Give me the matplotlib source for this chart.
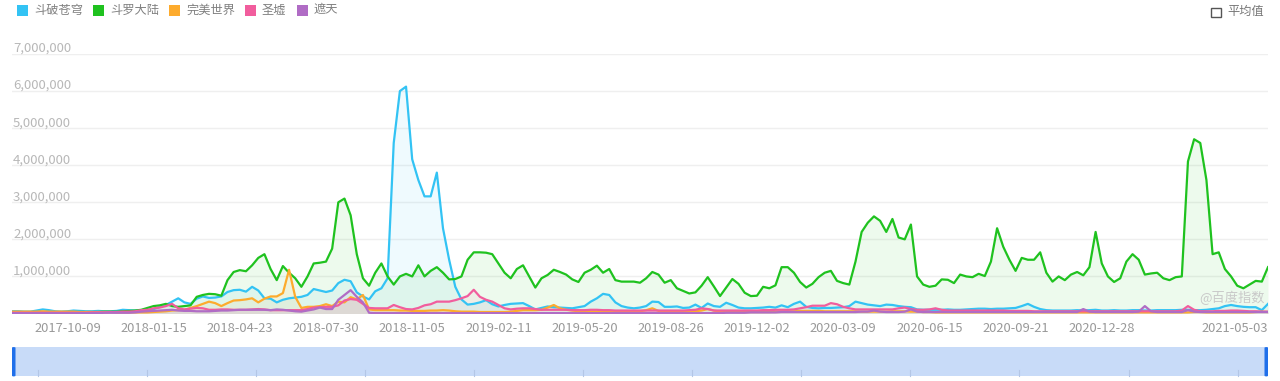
import numpy as np
import pandas as pd
import matplotlib
matplotlib.use("Agg")
import matplotlib.pyplot as plt
import matplotlib.transforms as mtransforms
from matplotlib.patches import Rectangle, FancyBboxPatch

plt.rcParams['font.family'] = ['Noto Sans CJK SC', 'DejaVu Sans']

# ---------------- data (values in millions, weekly) ----------------
start_date = "2017-08-07"
n_weeks = 205

series_names = ["斗破苍穹", "斗罗大陆", "完美世界", "圣墟", "遮天"]
series_colors = ["#33c3f4", "#1fc21f", "#fdab2d", "#f15d9d", "#b06cc5"]

doupo = [
    0.06, 0.06, 0.05, 0.05, 0.08, 0.11, 0.09, 0.06, 0.05, 0.06,
    0.08, 0.07, 0.06, 0.06, 0.07, 0.06, 0.06, 0.07, 0.10, 0.09,
    0.08, 0.09, 0.10, 0.12, 0.18, 0.23, 0.32, 0.41, 0.30, 0.26,
    0.40, 0.46, 0.42, 0.43, 0.46, 0.58, 0.63, 0.64, 0.59, 0.72,
    0.62, 0.41, 0.40, 0.30, 0.37, 0.41, 0.43, 0.45, 0.50, 0.66,
    0.62, 0.58, 0.62, 0.82, 0.91, 0.87, 0.57, 0.46, 0.38, 0.60,
    0.68, 0.95, 4.60, 6.00, 6.12, 4.16, 3.60, 3.16, 3.16, 3.80,
    2.30, 1.45, 0.72, 0.38, 0.24, 0.26, 0.30, 0.36, 0.25, 0.19,
    0.23, 0.26, 0.27, 0.28, 0.20, 0.11, 0.15, 0.19, 0.17, 0.16,
    0.15, 0.14, 0.17, 0.20, 0.32, 0.41, 0.53, 0.50, 0.30, 0.20,
    0.16, 0.14, 0.16, 0.20, 0.32, 0.31, 0.18, 0.18, 0.19, 0.15,
    0.16, 0.24, 0.15, 0.27, 0.20, 0.18, 0.29, 0.23, 0.16, 0.14,
    0.14, 0.15, 0.16, 0.18, 0.16, 0.22, 0.17, 0.26, 0.32, 0.18,
    0.15, 0.14, 0.15, 0.15, 0.16, 0.17, 0.20, 0.32, 0.28, 0.24,
    0.22, 0.20, 0.24, 0.23, 0.20, 0.18, 0.17, 0.11, 0.10, 0.10,
    0.10, 0.10, 0.11, 0.10, 0.10, 0.11, 0.12, 0.13, 0.13, 0.12,
    0.13, 0.13, 0.14, 0.15, 0.20, 0.26, 0.18, 0.12, 0.09, 0.08,
    0.08, 0.08, 0.08, 0.09, 0.08, 0.09, 0.10, 0.08, 0.08, 0.09,
    0.08, 0.08, 0.09, 0.09, 0.08, 0.08, 0.09, 0.09, 0.09, 0.09,
    0.10, 0.10, 0.09, 0.09, 0.10, 0.12, 0.14, 0.20, 0.23, 0.20,
    0.18, 0.17, 0.17, 0.09, 0.26,
]

douluo = [
    0.04, 0.04, 0.04, 0.04, 0.04, 0.04, 0.04, 0.04, 0.04, 0.04,
    0.04, 0.04, 0.04, 0.04, 0.04, 0.05, 0.05, 0.05, 0.06, 0.07,
    0.08, 0.10, 0.15, 0.20, 0.22, 0.26, 0.20, 0.18, 0.20, 0.22,
    0.45, 0.50, 0.53, 0.52, 0.48, 0.90, 1.12, 1.17, 1.14, 1.30,
    1.50, 1.60, 1.20, 0.90, 1.28, 1.10, 0.95, 0.72, 1.00, 1.35,
    1.37, 1.40, 1.75, 3.00, 3.10, 2.65, 1.60, 0.95, 0.75, 1.10,
    1.35, 1.00, 0.78, 1.00, 1.07, 1.00, 1.30, 1.00, 1.15, 1.25,
    1.10, 0.92, 0.93, 1.00, 1.45, 1.65, 1.65, 1.64, 1.60, 1.35,
    1.10, 0.95, 1.20, 1.30, 1.00, 0.70, 0.95, 1.04, 1.18, 1.12,
    1.05, 0.92, 0.85, 1.10, 1.18, 1.29, 1.10, 1.20, 0.90, 0.86,
    0.86, 0.86, 0.83, 0.95, 1.12, 1.05, 0.83, 0.90, 0.68, 0.61,
    0.54, 0.57, 0.75, 0.98, 0.73, 0.47, 0.70, 0.93, 0.80, 0.56,
    0.47, 0.48, 0.72, 0.68, 0.76, 1.25, 1.25, 1.10, 0.85, 0.70,
    0.80, 0.98, 1.10, 1.15, 0.88, 0.82, 0.78, 1.40, 2.20, 2.45,
    2.62, 2.50, 2.20, 2.55, 2.05, 2.00, 2.40, 1.00, 0.78, 0.72,
    0.75, 0.92, 0.91, 0.82, 1.05, 1.00, 0.98, 1.07, 1.01, 1.40,
    2.30, 1.80, 1.45, 1.15, 1.50, 1.45, 1.45, 1.65, 1.10, 0.86,
    1.00, 0.90, 1.05, 1.12, 1.03, 1.25, 2.20, 1.35, 1.00, 0.85,
    0.95, 1.40, 1.60, 1.45, 1.05, 1.08, 1.10, 0.95, 0.90, 0.98,
    1.00, 4.10, 4.70, 4.60, 3.60, 1.60, 1.65, 1.20, 1.00, 0.75,
    0.68, 0.78, 0.88, 0.86, 1.25,
]

wanmei = [
    0.05, 0.05, 0.05, 0.05, 0.05, 0.06, 0.05, 0.05, 0.05, 0.05,
    0.05, 0.04, 0.04, 0.04, 0.04, 0.04, 0.04, 0.03, 0.03, 0.03,
    0.03, 0.03, 0.03, 0.04, 0.05, 0.06, 0.08, 0.09, 0.10, 0.15,
    0.20, 0.26, 0.32, 0.28, 0.20, 0.28, 0.35, 0.36, 0.38, 0.41,
    0.30, 0.40, 0.46, 0.46, 0.55, 1.18, 0.45, 0.15, 0.18, 0.18,
    0.20, 0.25, 0.20, 0.32, 0.30, 0.44, 0.38, 0.50, 0.11, 0.09,
    0.09, 0.09, 0.09, 0.08, 0.08, 0.07, 0.07, 0.07, 0.08, 0.08,
    0.09, 0.08, 0.06, 0.05, 0.05, 0.05, 0.04, 0.04, 0.04, 0.04,
    0.04, 0.05, 0.07, 0.09, 0.09, 0.09, 0.10, 0.16, 0.23, 0.14,
    0.10, 0.08, 0.06, 0.05, 0.05, 0.05, 0.05, 0.05, 0.05, 0.05,
    0.05, 0.05, 0.06, 0.09, 0.14, 0.07, 0.05, 0.05, 0.05, 0.05,
    0.05, 0.06, 0.08, 0.12, 0.08, 0.05, 0.05, 0.05, 0.04, 0.04,
    0.04, 0.04, 0.04, 0.04, 0.05, 0.05, 0.06, 0.06, 0.07, 0.07,
    0.07, 0.07, 0.06, 0.06, 0.06, 0.06, 0.06, 0.06, 0.05, 0.05,
    0.05, 0.05, 0.05, 0.06, 0.06, 0.06, 0.05, 0.05, 0.04, 0.04,
    0.03, 0.03, 0.03, 0.03, 0.03, 0.03, 0.03, 0.03, 0.03, 0.03,
    0.03, 0.03, 0.03, 0.03, 0.03, 0.03, 0.03, 0.03, 0.03, 0.03,
    0.03, 0.03, 0.03, 0.03, 0.03, 0.03, 0.03, 0.03, 0.03, 0.03,
    0.03, 0.03, 0.03, 0.03, 0.03, 0.03, 0.03, 0.03, 0.03, 0.03,
    0.03, 0.03, 0.04, 0.04, 0.03, 0.03, 0.03, 0.03, 0.03, 0.03,
    0.03, 0.03, 0.04, 0.05, 0.04,
]

shengxu = [
    0.02, 0.02, 0.02, 0.02, 0.02, 0.02, 0.02, 0.02, 0.02, 0.02,
    0.02, 0.02, 0.02, 0.03, 0.03, 0.03, 0.04, 0.04, 0.05, 0.05,
    0.06, 0.09, 0.10, 0.14, 0.16, 0.20, 0.26, 0.14, 0.11, 0.13,
    0.15, 0.14, 0.10, 0.10, 0.11, 0.11, 0.10, 0.10, 0.10, 0.11,
    0.12, 0.11, 0.09, 0.09, 0.09, 0.09, 0.09, 0.09, 0.12, 0.16,
    0.17, 0.18, 0.18, 0.22, 0.35, 0.39, 0.37, 0.26, 0.15, 0.14,
    0.14, 0.14, 0.23, 0.17, 0.12, 0.11, 0.15, 0.22, 0.25, 0.32,
    0.32, 0.32, 0.36, 0.41, 0.47, 0.64, 0.45, 0.37, 0.32, 0.23,
    0.14, 0.11, 0.13, 0.14, 0.14, 0.12, 0.10, 0.10, 0.10, 0.10,
    0.10, 0.09, 0.09, 0.09, 0.10, 0.10, 0.09, 0.09, 0.08, 0.08,
    0.08, 0.08, 0.08, 0.08, 0.08, 0.08, 0.08, 0.08, 0.08, 0.08,
    0.09, 0.10, 0.14, 0.12, 0.08, 0.08, 0.08, 0.08, 0.08, 0.08,
    0.08, 0.08, 0.09, 0.09, 0.10, 0.10, 0.10, 0.11, 0.14, 0.17,
    0.21, 0.21, 0.21, 0.28, 0.25, 0.18, 0.14, 0.11, 0.11, 0.11,
    0.11, 0.11, 0.11, 0.11, 0.14, 0.16, 0.12, 0.10, 0.10, 0.11,
    0.14, 0.10, 0.08, 0.08, 0.08, 0.08, 0.08, 0.08, 0.08, 0.08,
    0.08, 0.08, 0.07, 0.07, 0.07, 0.07, 0.06, 0.06, 0.06, 0.06,
    0.06, 0.06, 0.06, 0.06, 0.06, 0.06, 0.06, 0.06, 0.06, 0.06,
    0.06, 0.06, 0.06, 0.06, 0.06, 0.06, 0.06, 0.06, 0.06, 0.06,
    0.08, 0.20, 0.10, 0.06, 0.06, 0.06, 0.07, 0.07, 0.08, 0.08,
    0.07, 0.06, 0.06, 0.05, 0.05,
]

zhetian = [
    0.01, 0.01, 0.01, 0.01, 0.01, 0.01, 0.01, 0.01, 0.01, 0.01,
    0.01, 0.01, 0.01, 0.01, 0.01, 0.02, 0.02, 0.02, 0.02, 0.02,
    0.03, 0.05, 0.06, 0.07, 0.08, 0.09, 0.10, 0.08, 0.07, 0.07,
    0.06, 0.06, 0.06, 0.07, 0.08, 0.08, 0.09, 0.10, 0.10, 0.10,
    0.10, 0.10, 0.09, 0.11, 0.10, 0.08, 0.06, 0.05, 0.08, 0.11,
    0.16, 0.12, 0.12, 0.37, 0.50, 0.63, 0.45, 0.30, 0.02, 0.01,
    0.01, 0.01, 0.01, 0.01, 0.01, 0.01, 0.01, 0.01, 0.01, 0.01,
    0.01, 0.01, 0.01, 0.01, 0.01, 0.01, 0.01, 0.01, 0.01, 0.01,
    0.01, 0.01, 0.01, 0.01, 0.01, 0.01, 0.01, 0.01, 0.01, 0.01,
    0.01, 0.01, 0.01, 0.01, 0.01, 0.01, 0.01, 0.01, 0.01, 0.01,
    0.01, 0.01, 0.01, 0.01, 0.01, 0.01, 0.01, 0.01, 0.01, 0.01,
    0.01, 0.01, 0.01, 0.01, 0.01, 0.01, 0.02, 0.02, 0.02, 0.02,
    0.03, 0.03, 0.03, 0.03, 0.03, 0.04, 0.04, 0.04, 0.04, 0.04,
    0.04, 0.04, 0.04, 0.04, 0.04, 0.04, 0.04, 0.04, 0.05, 0.05,
    0.08, 0.05, 0.04, 0.04, 0.04, 0.05, 0.11, 0.05, 0.04, 0.04,
    0.04, 0.04, 0.04, 0.04, 0.04, 0.04, 0.04, 0.04, 0.04, 0.04,
    0.04, 0.04, 0.04, 0.04, 0.04, 0.04, 0.04, 0.04, 0.04, 0.04,
    0.04, 0.04, 0.04, 0.04, 0.12, 0.05, 0.04, 0.04, 0.04, 0.04,
    0.04, 0.04, 0.04, 0.05, 0.20, 0.06, 0.04, 0.04, 0.04, 0.04,
    0.04, 0.09, 0.05, 0.04, 0.04, 0.04, 0.04, 0.04, 0.04, 0.04,
    0.04, 0.04, 0.04, 0.04, 0.04,
]

y_ticks = [1_000_000, 2_000_000, 3_000_000, 4_000_000, 5_000_000, 6_000_000, 7_000_000]
x_tick_labels = ["2017-10-09", "2018-01-15", "2018-04-23", "2018-07-30", "2018-11-05",
                 "2019-02-11", "2019-05-20", "2019-08-26", "2019-12-02", "2020-03-09",
                 "2020-06-15", "2020-09-21", "2020-12-28", "2021-05-03"]
legend_extra = "平均值"
watermark = "@百度指数"

# ---------------- figure ----------------
W, H = 1280, 381
fig = plt.figure(figsize=(W / 100, H / 100), dpi=100)
fig.patch.set_facecolor("white")

def fx(px):
    return px / W

def fy(py):
    return 1 - py / H

plot_l, plot_r, plot_t, plot_b = 12, 1268, 54, 313.5
ax = fig.add_axes([fx(plot_l), fy(plot_b), fx(plot_r - plot_l), (plot_b - plot_t) / H])
ax.set_facecolor("none")

dates = pd.date_range(start_date, periods=n_weeks, freq="7D")
all_series = [doupo, douluo, wanmei, shengxu, zhetian]

for k, (vals, col) in enumerate(zip(all_series, series_colors)):
    v = np.array(vals) * 1e6
    ax.fill_between(dates, v, 0, color=col, alpha=0.08, linewidth=0, zorder=2 + k)
    ax.plot(dates, v, color=col, lw=1.6, zorder=10 + k, solid_joinstyle="round")

ax.set_xlim(dates[0], dates[-1])
ax.set_ylim(0, 7_000_000)
for s in ax.spines.values():
    s.set_visible(False)
ax.set_xticks([])
ax.set_yticks([])

# grid lines + y labels
ytrans = mtransforms.blended_transform_factory(ax.transAxes, ax.transData)
for v in y_ticks:
    ax.axhline(v, color="#efefef", lw=1, zorder=0)
    ax.text(0.0, v, f"{v:,}", transform=ytrans + mtransforms.ScaledTranslation(1 / 100, 2 / 100, fig.dpi_scale_trans),
            ha="left", va="baseline", fontsize=9.5, color="#b8b8b8", zorder=1)

# x labels
xtrans = mtransforms.blended_transform_factory(ax.transData, fig.transFigure)
for i, lab in enumerate(x_tick_labels):
    d = pd.Timestamp(lab)
    if i == len(x_tick_labels) - 1:
        ax.text(dates[-1], fy(332), lab, transform=xtrans, ha="right", va="baseline",
                fontsize=9.3, color="#999999", clip_on=False)
    else:
        ax.text(d, fy(332), lab, transform=xtrans, ha="center", va="baseline",
                fontsize=9.3, color="#999999", clip_on=False)

# watermark
fig.text(fx(1265), fy(298), watermark, ha="right", va="center", fontsize=9.5, color="#c9c9c9")

# legend (manual)
renderer = fig.canvas.get_renderer()
cur = 17
for name, col in zip(series_names, series_colors):
    fig.patches.append(Rectangle((fx(cur), fy(15.5)), fx(11), 11 / H, transform=fig.transFigure,
                                 facecolor=col, edgecolor="none"))
    t = fig.text(fx(cur + 17), fy(10), name, ha="left", va="center", fontsize=8.8, color="#808080")
    bb = t.get_window_extent(renderer)
    cur = cur + 17 + bb.width + 10

# average checkbox
fig.patches.append(Rectangle((fx(1211), fy(17)), fx(9.5), 9.5 / H, transform=fig.transFigure,
                             facecolor="white", edgecolor="#555555", lw=1))
fig.text(fx(1227), fy(11.5), legend_extra, ha="left", va="center", fontsize=8.8, color="#777777")

# data zoom slider
fig.patches.append(Rectangle((fx(12), fy(376)), fx(1256), 29 / H, transform=fig.transFigure,
                             facecolor="#c8dbf8", edgecolor="none"))
for px in np.arange(37.5, 1268, 109.1):
    fig.lines.append(plt.Line2D([fx(px), fx(px)], [fy(376), fy(370)], transform=fig.transFigure,
                                color="#b4c7e6", lw=0.8))
for hx in (12, 1264.5):
    fig.patches.append(FancyBboxPatch((fx(hx), fy(376.5)), fx(3.5), 29.5 / H, transform=fig.transFigure,
                                      boxstyle="round,pad=0,rounding_size=0.002",
                                      facecolor="#1f6fea", edgecolor="none"))

fig.savefig("out.png", dpi=100, facecolor="white")
